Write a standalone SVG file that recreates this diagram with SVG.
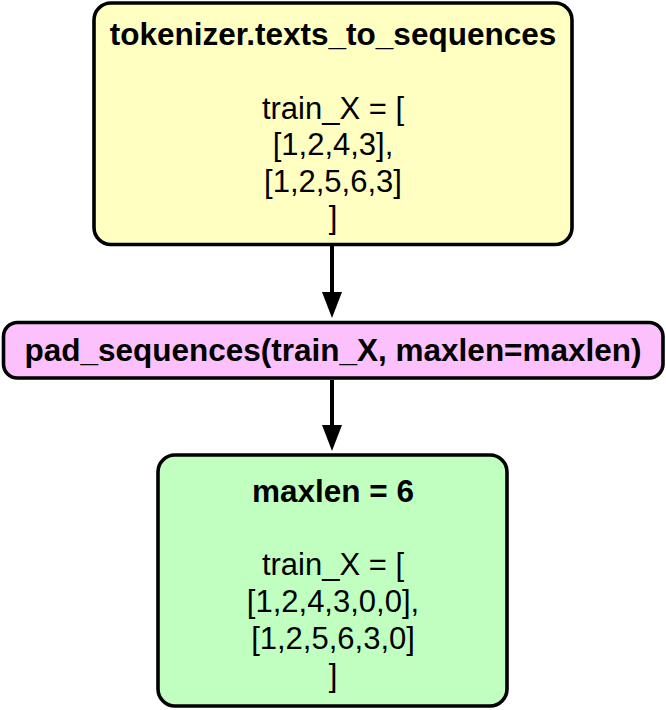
<svg xmlns="http://www.w3.org/2000/svg" width="666" height="710" viewBox="0 0 666 710">
<style>
.box{stroke:#000;stroke-width:3.6}
.t{font-family:"Liberation Sans",Arial,Helvetica,sans-serif;font-size:31px;text-anchor:middle;fill:#000}
.b{font-weight:bold;font-size:31.5px}
.c{stroke:#000;stroke-width:4;fill:none}
</style>
<defs>
<marker id="ah" viewBox="0 0 26 20" markerWidth="26" markerHeight="20" refX="4" refY="10" orient="auto" markerUnits="userSpaceOnUse">
<path d="M0,0 L26,10 L0,20 z" fill="#000"/>
</marker>
</defs>
<rect width="666" height="710" fill="#fff"/>
<g id="connectors">
<line class="c" x1="332" y1="246" x2="332" y2="296" marker-end="url(#ah)"/>
<line class="c" x1="332" y1="380" x2="332" y2="429" marker-end="url(#ah)"/>
</g>
<g id="node-tokenizer">
<rect class="box" x="94" y="3" width="478" height="241.5" rx="17" fill="#ffffc2"/>
<text class="t b" x="333" y="45">tokenizer.texts_to_sequences</text>
<text class="t" x="333" y="118.5">train_X = [</text>
<text class="t" x="333" y="155">[1,2,4,3],</text>
<text class="t" x="333" y="191.5">[1,2,5,6,3]</text>
<text class="t" x="333" y="228">]</text>
</g>
<g id="node-pad">
<rect class="box" x="3.5" y="322.5" width="659.5" height="55.5" rx="14" fill="#fcc0fc"/>
<text class="t b" x="333" y="361">pad_sequences(train_X, maxlen=maxlen)</text>
</g>
<g id="node-result">
<rect class="box" x="158" y="455" width="349" height="251" rx="17" fill="#c0ffc0"/>
<text class="t b" x="333" y="502">maxlen = 6</text>
<text class="t" x="333" y="575">train_X = [</text>
<text class="t" x="333" y="612">[1,2,4,3,0,0],</text>
<text class="t" x="333" y="649">[1,2,5,6,3,0]</text>
<text class="t" x="333" y="686">]</text>
</g>
</svg>
